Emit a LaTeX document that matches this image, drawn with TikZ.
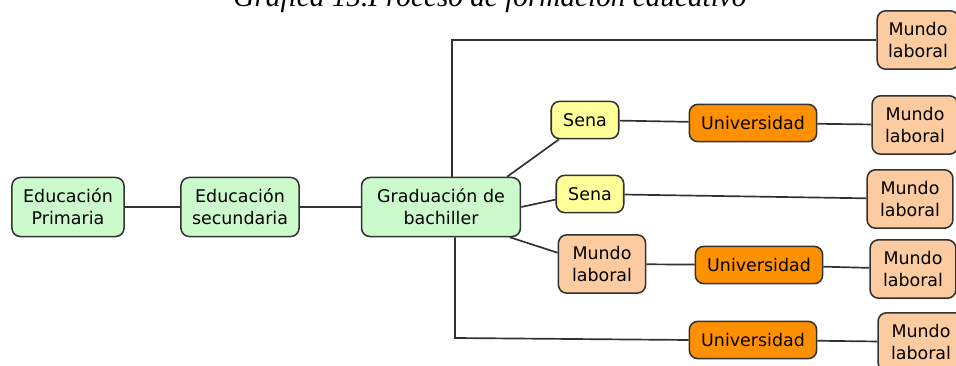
\documentclass[tikz,border=0pt]{standalone}
\usepackage{fontspec}
\usepackage{tikz}
\usetikzlibrary{arrows}
\newfontfamily\cajafont{DejaVu Sans}
\newfontfamily\titulofont{Liberation Serif}
\definecolor{verde}{RGB}{204,250,204}
\definecolor{amarillo}{RGB}{255,255,153}
\definecolor{naranja}{RGB}{255,145,0}
\definecolor{durazno}{RGB}{252,204,160}
\definecolor{linea}{RGB}{50,50,50}
\tikzset{
	caja/.style={draw=linea, line width=1.1pt, rounded corners=6pt, align=center, inner sep=2pt,
		font=\cajafont\fontsize{12.4}{15.5}\selectfont},
	etapa/.style={caja, fill=verde, minimum height=42pt},
	sena/.style={caja, fill=amarillo, minimum width=48pt, minimum height=26.5pt},
	univ/.style={caja, fill=naranja, minimum width=90.5pt, minimum height=26.5pt},
	mundo/.style={caja, fill=durazno, minimum width=61pt, minimum height=41.5pt},
	enlace/.style={draw=linea, line width=1.2pt}
}

\begin{document}
\begin{tikzpicture}[x=0.025cm,y=-0.025cm]
	\useasboundingbox (0,0) rectangle (956,366);
	\node[anchor=base, font=\titulofont\itshape\fontsize{20.8}{24}\selectfont] (titulo) at (490,7) {Gráfica 15.Proceso de formación educativo};

	% etapas
	\node[etapa, minimum width=79.7pt] (prim) at (68,207) {Educación\\Primaria};
	\node[etapa, minimum width=84pt] (sec) at (240,207) {Educación\\secundaria};
	\node[etapa, minimum width=113pt] (grad) at (441,207) {Graduación de\\bachiller};

	% ramas
	\node[mundo, minimum width=58pt] (mlA) at (918,40) {Mundo\\laboral};
	\node[sena] (senaA) at (585,120) {Sena};
	\node[univ] (uniA) at (753,123) {Universidad};
	\node[mundo] (mlB) at (915,125) {Mundo\\laboral};
	\node[sena] (senaB) at (590,194) {Sena};
	\node[mundo] (mlC) at (910,199) {Mundo\\laboral};
	\node[mundo, minimum width=62pt] (mlD) at (602,264) {Mundo\\laboral};
	\node[univ] (uniB) at (759,265) {Universidad};
	\node[mundo] (mlE) at (913,269) {Mundo\\laboral};
	\node[univ] (uniC) at (753,340) {Universidad};
	\node[mundo] (mlF) at (921,342) {Mundo\\laboral};

	\coordinate (jt) at (452,40);
	\coordinate (jb) at (455,338);

	\draw[enlace] (prim) -- (sec);
	\draw[enlace] (sec) -- (grad);
	\draw[enlace] (grad.north -| jt) -- (jt) -- (mlA.west);
	\draw[enlace] (grad.south -| jb) -- (jb) -- (uniC.west);
	\draw[enlace] ([xshift=-10pt]grad.north east) -- ([xshift=6pt]senaA.south west);
	\draw[enlace] (grad.east) -- ([yshift=-4pt]senaB.west);
	\draw[enlace] ([xshift=-8pt]grad.south east) -- ([yshift=8pt]mlD.west);
	\draw[enlace] (senaA) -- (uniA);
	\draw[enlace] (uniA) -- (mlB);
	\draw[enlace] (senaB) -- (mlC);
	\draw[enlace] (mlD) -- (uniB);
	\draw[enlace] (uniB) -- (mlE);
	\draw[enlace] (uniC) -- (mlF);
\end{tikzpicture}
\end{document}
